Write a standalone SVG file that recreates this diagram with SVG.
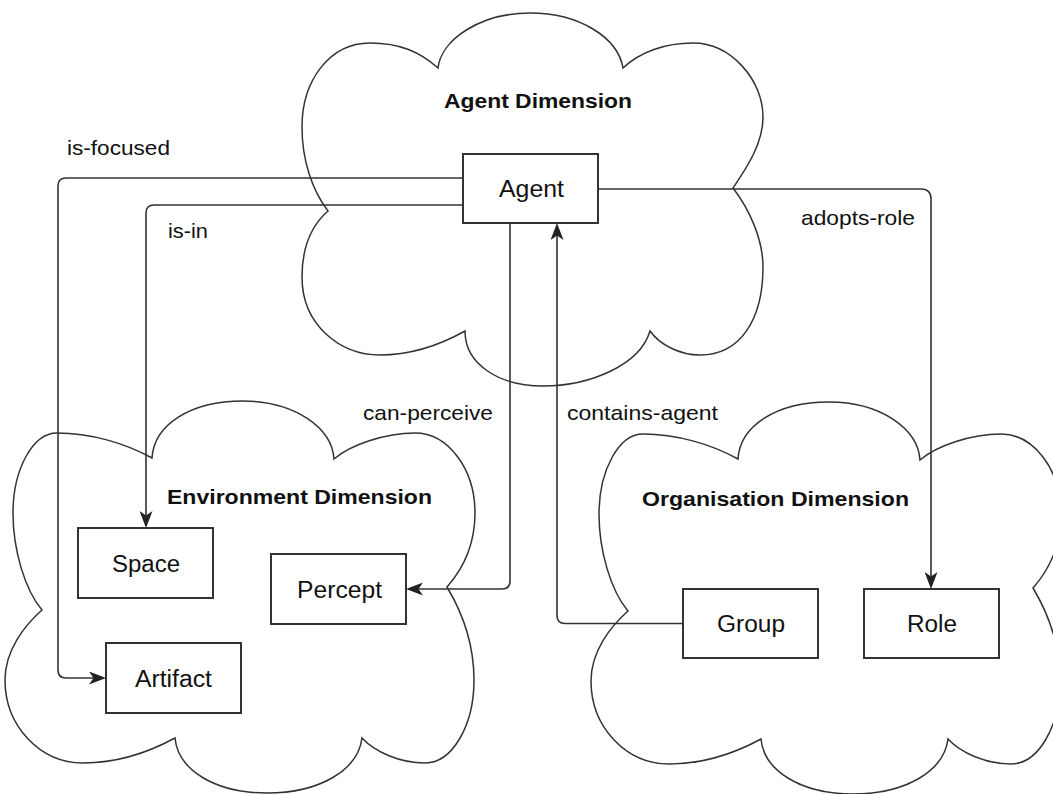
<svg xmlns="http://www.w3.org/2000/svg" width="1053" height="794" viewBox="0 0 1053 794">
  <style>
    .cloud { fill: #ffffff; stroke: #333333; stroke-width: 1.5; }
    .box { fill: #ffffff; stroke: #333333; stroke-width: 2; }
    .edge { fill: none; stroke: #333333; stroke-width: 1.6; }
    .t { font-family: "Liberation Sans", Arial, Helvetica, sans-serif; fill: #111111; }
    .title { font-size: 21px; font-weight: bold; }
    .node { font-size: 23px; }
    .elabel { font-size: 21px; }
  </style>
  <defs>
    <marker id="arrow" viewBox="0 0 17 13" refX="9" refY="6.5" markerWidth="17" markerHeight="13" markerUnits="userSpaceOnUse" orient="auto">
      <path d="M0,0 L17,6.5 L0,13 L4.5,6.5 Z" fill="#222222"/>
    </marker>
    <path id="envCloudShape" d="M152,458 C154,425 190,401 243,401 C295,401 332,428 334,459 C350,445 385,433 415,433 C448,433 475,469 475,513 C475,545 462,570 447,587 C462,612 474,645 474,680 C474,726 452,763 425,763 C400,763 375,752 362,738 C358,770 320,793 267,793 C215,793 178,770 175,738 C140,757 110,763 83,763 C40,763 5,726 5,680 C5,650 25,625 42,610 C25,590 13,550 13,513 C13,469 33,433 57,433 C90,433 125,443 152,458 Z"/>
  </defs>

  <g id="agent-dimension">
    <path class="cloud" d="M438,68 C441,40 480,13 530,13 C580,13 618,38 623,68 C640,52 665,43 693,43 C731,43 763,80 763,117 C763,145 745,170 733,188 C750,210 763,240 763,267 C763,320 740,355 700,355 C680,355 660,345 650,331 C640,365 590,386 543,386 C500,386 465,365 465,331 C440,345 410,355 380,355 C340,355 302,325 302,277 C302,245 312,225 328,211 C312,190 302,160 302,127 C302,80 330,43 370,43 C400,43 420,52 438,68 Z"/>
    <text class="t title" x="444" y="108" textLength="188" lengthAdjust="spacingAndGlyphs">Agent Dimension</text>
  </g>

  <g id="environment-dimension">
    <use href="#envCloudShape" class="cloud"/>
    <text class="t title" x="167" y="504" textLength="265" lengthAdjust="spacingAndGlyphs">Environment Dimension</text>
  </g>

  <g id="organisation-dimension">
    <use href="#envCloudShape" class="cloud" transform="translate(586,1)"/>
    <text class="t title" x="642" y="506" textLength="267" lengthAdjust="spacingAndGlyphs">Organisation Dimension</text>
  </g>

  <g id="connectors">
    <path class="edge" d="M463,178 H66 Q58,178 58,186 V670 Q58,678 66,678 H98" marker-end="url(#arrow)"/>
    <path class="edge" d="M463,205 H154 Q146,205 146,213 V520" marker-end="url(#arrow)"/>
    <path class="edge" d="M510,223 V581 Q510,589 502,589 H414" marker-end="url(#arrow)"/>
    <path class="edge" d="M683,623.5 H565 Q557,623.5 557,615.5 V231" marker-end="url(#arrow)"/>
    <path class="edge" d="M598,189 H921 Q931,189 931,199 V581" marker-end="url(#arrow)"/>
    <text class="t elabel" x="67" y="155" textLength="103" lengthAdjust="spacingAndGlyphs">is-focused</text>
    <text class="t elabel" x="168" y="238" textLength="40" lengthAdjust="spacingAndGlyphs">is-in</text>
    <text class="t elabel" x="363" y="420" textLength="130" lengthAdjust="spacingAndGlyphs">can-perceive</text>
    <text class="t elabel" x="567" y="420" textLength="151" lengthAdjust="spacingAndGlyphs">contains-agent</text>
    <text class="t elabel" x="801" y="225" textLength="114" lengthAdjust="spacingAndGlyphs">adopts-role</text>
  </g>

  <g id="agent">
    <rect class="box" x="463" y="154" width="135" height="69"/>
    <text class="t node" x="499" y="197" textLength="65" lengthAdjust="spacingAndGlyphs">Agent</text>
  </g>
  <g id="space">
    <rect class="box" x="78" y="528" width="135" height="70"/>
    <text class="t node" x="112" y="572" textLength="68" lengthAdjust="spacingAndGlyphs">Space</text>
  </g>
  <g id="percept">
    <rect class="box" x="271" y="554" width="135" height="70"/>
    <text class="t node" x="297" y="598" textLength="85" lengthAdjust="spacingAndGlyphs">Percept</text>
  </g>
  <g id="artifact">
    <rect class="box" x="106" y="643" width="135" height="70"/>
    <text class="t node" x="135" y="687" textLength="77" lengthAdjust="spacingAndGlyphs">Artifact</text>
  </g>
  <g id="group">
    <rect class="box" x="683" y="589" width="135" height="69"/>
    <text class="t node" x="717" y="632" textLength="68" lengthAdjust="spacingAndGlyphs">Group</text>
  </g>
  <g id="role">
    <rect class="box" x="864" y="589" width="135" height="69"/>
    <text class="t node" x="907" y="632" textLength="50" lengthAdjust="spacingAndGlyphs">Role</text>
  </g>
</svg>
